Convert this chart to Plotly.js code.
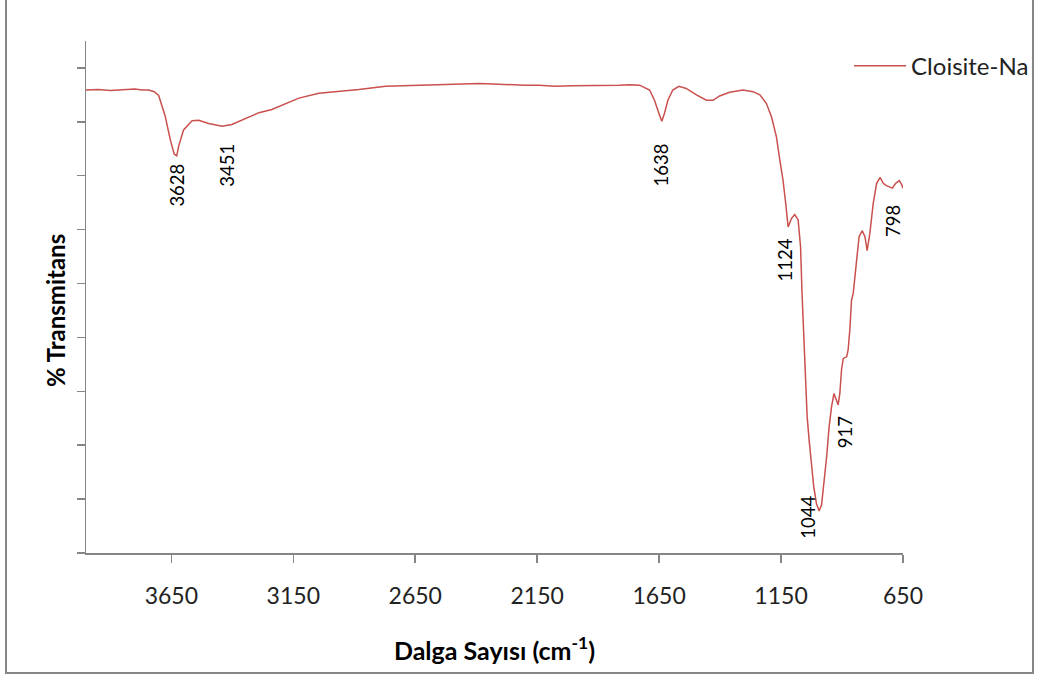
<!DOCTYPE html>
<html>
<head>
<meta charset="utf-8">
<script src="https://cdn.plot.ly/plotly-3.0.1.min.js"></script>
<style>
  html, body { margin: 0; padding: 0; background: #ffffff; }
  #chart { width: 1042px; height: 678px; }
</style>
</head>
<body>
<div id="chart"></div>
<script>
// Wavenumber (cm-1)
const wavenumber = [
  4000, 3950, 3900, 3850, 3800, 3770, 3743, 3720, 3702, 3675, 3654, 3638, 3628, 3620, 3600,
  3565, 3538, 3497, 3460, 3442, 3402, 3346, 3291, 3238, 3182, 3127, 3045, 2963, 2881, 2771,
  2700, 2634, 2550, 2450, 2388, 2330, 2278, 2200, 2141, 2080, 2006, 1900, 1813, 1771, 1730,
  1689, 1669, 1651, 1639, 1628, 1614, 1594, 1569, 1539, 1497, 1456, 1429, 1402, 1361, 1306,
  1265, 1237, 1210, 1189, 1169, 1155, 1142, 1131, 1121, 1107, 1094, 1080, 1070, 1064, 1058,
  1053, 1048, 1043, 1035, 1025, 1016, 1005, 994, 984, 975, 963, 953, 943, 933, 925,
  916, 909, 902, 895, 881, 875, 868, 861, 854, 840, 830, 817, 806, 797, 786,
  772, 758, 744, 731, 720, 710, 694, 680, 665, 655, 650
];
// Transmittance (arbitrary % scale, axis unlabeled)
const transmittance = [
  85.9, 86.0, 85.8, 86.0, 86.1, 85.9, 85.9, 85.6, 84.9, 81.0, 76.6, 74.0, 73.7, 75.5, 78.5,
  80.2, 80.3, 79.7, 79.3, 79.2, 79.5, 80.6, 81.7, 82.3, 83.4, 84.4, 85.3, 85.6, 86.0, 86.6,
  86.7, 86.8, 86.9, 87.0, 87.1, 87.0, 86.9, 86.8, 86.8, 86.6, 86.7, 86.7, 86.8, 86.9, 86.8,
  85.9, 84.0, 81.6, 80.1, 81.6, 84.0, 85.9, 86.6, 86.2, 85.0, 84.0, 84.0, 84.8, 85.5, 85.9,
  85.6, 85.0, 83.4, 80.9, 77.2, 72.9, 69.2, 64.9, 60.5, 62.1, 62.8, 61.8, 56.8, 48.2, 41.0,
  35.8, 29.6, 25.3, 21.0, 16.6, 12.3, 9.2, 7.8, 8.9, 12.3, 17.9, 23.4, 27.1, 29.6, 28.7,
  27.5, 29.6, 34.0, 36.1, 36.4, 37.7, 41.4, 46.9, 48.2, 54.4, 58.7, 59.8, 58.7, 56.1, 59.3,
  64.9, 68.6, 69.7, 68.6, 68.2, 68.0, 67.7, 68.6, 69.1, 68.3, 67.7
];
const seriesName = "Cloisite-Na";

// Peak labels
const peakLabels = ["3628", "3451", "1638", "1124", "1044", "917", "798"];
const peakLabelX = [3628, 3423, 1644, 1135, 1040, 888, 691];
const peakLabelY = [68.3, 72.0, 72.0, 54.4, 6.7, 22.4, 61.6];

const xTickVals = [3650, 3150, 2650, 2150, 1650, 1150, 650];

const axisGray = "#868686";
const lineColor = "#C9504D";

const trace = {
  x: wavenumber,
  y: transmittance,
  type: "scatter",
  mode: "lines",
  name: seriesName,
  line: { color: lineColor, width: 1.5 }
};

const annotations = peakLabels.map((t, i) => ({
  x: peakLabelX[i], y: peakLabelY[i], xref: "x", yref: "y",
  text: t, showarrow: false, textangle: -90,
  font: { family: "Lato, sans-serif", size: 18.5, color: "#000000" },
  xanchor: "center", yanchor: "middle"
}));

// y-axis title placed as in the reference (slightly below the plot centre)
annotations.push({
  x: (55 - 86) / 817, y: (553 - 311) / 512, xref: "paper", yref: "paper",
  text: "% Transmitans", showarrow: false, textangle: -90,
  font: { family: "Lato, sans-serif", size: 24, color: "#000000", weight: "bold" },
  xanchor: "center", yanchor: "middle"
});

const layout = {
  width: 1042, height: 678,
  margin: { l: 86, r: 139, t: 41, b: 125, pad: 0, autoexpand: false },
  paper_bgcolor: "#ffffff",
  plot_bgcolor: "#ffffff",
  font: { family: "Lato, sans-serif", color: "#000000" },
  showlegend: true,
  legend: {
    x: 0.934, xanchor: "left", y: 0.995, yanchor: "top",
    bgcolor: "rgba(0,0,0,0)",
    font: { family: "Lato, sans-serif", size: 24, color: "#222222" },
    itemwidth: 52
  },
  xaxis: {
    range: [4000, 650],
    tickvals: xTickVals,
    ticktext: xTickVals.map(String),
    ticks: "outside", ticklen: 8, tickcolor: axisGray, tickwidth: 1.5,
    ticklabelstandoff: 14,
    showline: true, linecolor: axisGray, linewidth: 1.5,
    showgrid: false, zeroline: false,
    tickfont: { family: "Lato, sans-serif", size: 23, color: "#222222" },
    title: { text: "Dalga Sayısı (cm<sup>-1</sup>)", standoff: 34,
             font: { family: "Lato, sans-serif", size: 25, color: "#000000", weight: "bold" } }
  },
  yaxis: {
    range: [0, 95],
    tick0: 0, dtick: 10,
    ticks: "outside", ticklen: 8, tickcolor: axisGray, tickwidth: 1.5,
    showticklabels: false,
    showline: true, linecolor: axisGray, linewidth: 1.5,
    showgrid: false, zeroline: false
  },
  annotations: annotations,
  shapes: [{
    type: "rect", xref: "paper", yref: "paper",
    x0: (6 - 86) / 817, x1: (1033 - 86) / 817,
    y0: (553 - 673) / 512, y1: (553 + 3) / 512,
    line: { color: axisGray, width: 2 },
    fillcolor: "rgba(0,0,0,0)", layer: "below"
  }]
};

Plotly.newPlot("chart", [trace], layout, { staticPlot: true, displayModeBar: false });
</script>
</body>
</html>
